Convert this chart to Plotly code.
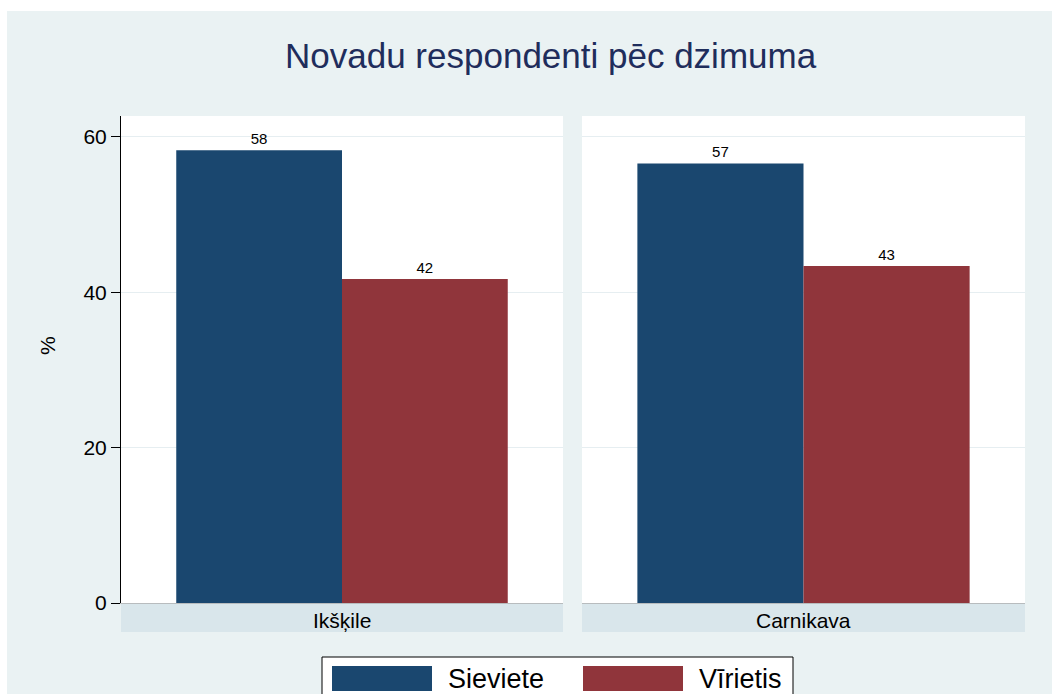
import plotly.graph_objects as go

# ---- data ----
regions = ["Ikšķile", "Carnikava"]
series = ["Sieviete", "Vīrietis"]
sieviete = [58.3, 56.6]
virietis = [41.7, 43.4]
y_ticks = [0, 20, 40, 60]
title_text = "Novadu respondenti pēc dzimuma"
y_title = "%"

# ---- style ----
W, H = 1052, 694
FONT = "Liberation Sans, Arial, Helvetica, sans-serif"
BG = "#eaf2f3"
STRIP = "#d9e6eb"
GRID = "#e6eef1"
COLORS = ["#1a476f", "#90353b"]
TITLE_COLOR = "#1f2d5c"

def px(x):
    return x / W

def py(y):
    return (H - y) / H

panel_x = [(121, 563), (582, 1025)]
plot_top, plot_bot = 116, 603

fig = go.Figure()
values = [sieviete, virietis]
for i, reg in enumerate(regions):
    xa = "x" if i == 0 else "x2"
    ya = "y" if i == 0 else "y2"
    for s, name in enumerate(series):
        fig.add_trace(go.Bar(
            x=[reg], y=[values[s][i]], name=name,
            marker=dict(color=COLORS[s], line=dict(width=0)),
            text=[values[s][i]], texttemplate="%{y:.0f}",
            textposition="outside",
            textfont=dict(size=15, color="black", family=FONT),
            xaxis=xa, yaxis=ya, showlegend=False,
        ))

shapes = []
# white border at top and left of the graph region
shapes.append(dict(type="rect", xref="paper", yref="paper", x0=0, x1=1,
                   y0=py(11), y1=1.0, fillcolor="white", line=dict(width=0), layer="below"))
shapes.append(dict(type="rect", xref="paper", yref="paper", x0=0, x1=px(7),
                   y0=0, y1=1.0, fillcolor="white", line=dict(width=0), layer="below"))
annotations = []
for i, (x0, x1) in enumerate(panel_x):
    # white plot area
    shapes.append(dict(type="rect", xref="paper", yref="paper", x0=px(x0), x1=px(x1),
                       y0=py(plot_bot), y1=py(plot_top), fillcolor="white",
                       line=dict(width=0), layer="below"))
    # strip
    shapes.append(dict(type="rect", xref="paper", yref="paper", x0=px(x0), x1=px(x1),
                       y0=py(632), y1=py(604), fillcolor=STRIP,
                       line=dict(width=0), layer="below"))
    annotations.append(dict(text=regions[i], xref="paper", yref="paper",
                            x=px((x0 + x1) / 2), y=py(620), showarrow=False,
                            xanchor="center", yanchor="middle",
                            font=dict(size=21, color="black", family=FONT)))

# title
annotations.append(dict(text=title_text, xref="paper", yref="paper", x=px(551), y=py(56),
                        showarrow=False, xanchor="center", yanchor="middle",
                        font=dict(size=35, color=TITLE_COLOR, family=FONT)))
# y-axis title
annotations.append(dict(text=y_title, xref="paper", yref="paper", x=px(47), y=py(346),
                        showarrow=False, textangle=-90, xanchor="center", yanchor="middle",
                        font=dict(size=21, color="black", family=FONT)))

# legend (custom, Stata style)
shapes.append(dict(type="rect", xref="paper", yref="paper", x0=px(322), x1=px(793),
                   y0=py(705), y1=py(657), fillcolor="white",
                   line=dict(color="black", width=1), layer="above"))
legend_x = [332, 583]
for s, name in enumerate(series):
    lx = legend_x[s]
    shapes.append(dict(type="rect", xref="paper", yref="paper", x0=px(lx), x1=px(lx + 100),
                       y0=py(691), y1=py(666), fillcolor=COLORS[s],
                       line=dict(width=0), layer="above"))
    annotations.append(dict(text=name, xref="paper", yref="paper", x=px(lx + 114),
                            y=py(679), showarrow=False, xanchor="left", yanchor="middle",
                            font=dict(size=27, color="black", family=FONT)))

yaxis_common = dict(range=[0, 62.7], tickvals=y_ticks, showgrid=True, gridcolor=GRID,
                    gridwidth=1, zeroline=False, automargin=False,
                    domain=[py(plot_bot), py(plot_top)])
xaxis_common = dict(showticklabels=False, ticks="", showgrid=False, zeroline=False,
                    showline=True, linecolor="#b8bcbe", linewidth=1, automargin=False,
                    fixedrange=True)

fig.update_layout(
    width=W, height=H,
    margin=dict(l=0, r=0, t=0, b=0),
    paper_bgcolor=BG,
    plot_bgcolor="rgba(0,0,0,0)",
    barmode="group", bargap=0.25, bargroupgap=0,
    showlegend=False,
    font=dict(family=FONT, color="black"),
    xaxis=dict(domain=[px(panel_x[0][0]), px(panel_x[0][1])], anchor="y", **xaxis_common),
    xaxis2=dict(domain=[px(panel_x[1][0]), px(panel_x[1][1])], anchor="y2", **xaxis_common),
    yaxis=dict(anchor="x", showline=True, linecolor="black", linewidth=1,
               ticks="outside", ticklen=9, tickwidth=1, tickcolor="black",
               tickfont=dict(size=21, color="black", family=FONT), **yaxis_common),
    yaxis2=dict(anchor="x2", matches="y", showline=False, showticklabels=False,
                ticks="", **yaxis_common),
    shapes=shapes,
    annotations=annotations,
)

fig.write_html(
    "out.html",
    config={"displayModeBar": False},
    post_script="document.body.style.margin='0px'; document.body.style.overflow='hidden';",
)
